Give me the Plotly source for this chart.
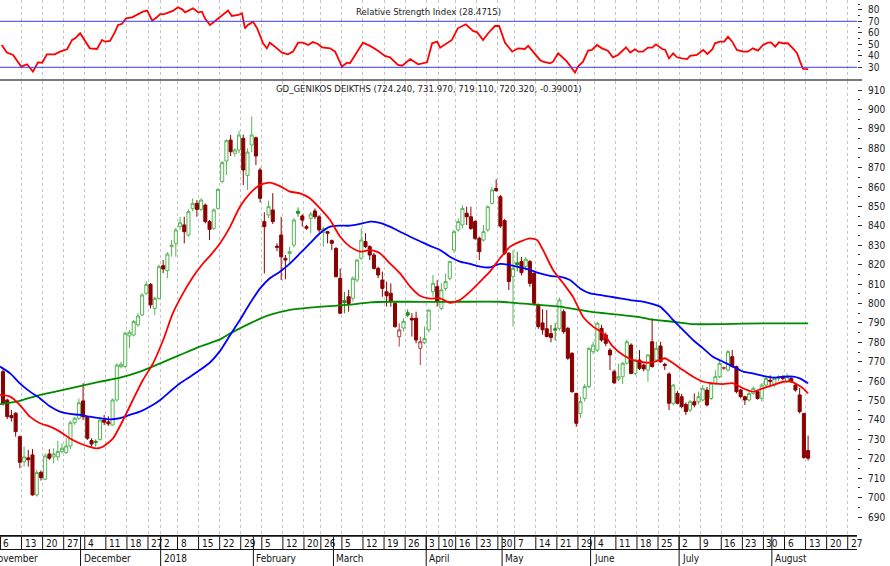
import pandas as pd
import plotly.graph_objects as go

# ---------------- data ----------------
opens = [764.9, 750.3, 742.3, 743.5, 731.4, 718.5, 720.5, 722.0, 701.4, 713.0,
         709.5, 722.5, 721.0, 721.0, 723.7, 723.2, 726.6, 738.6, 740.9, 749.8,
         741.7, 729.4, 729.0, 730.0, 740.0, 739.0, 737.4, 750.3, 767.5, 767.5,
         783.3, 783.8, 789.0, 794.1, 805.3, 809.9, 797.5, 802.7, 819.5, 817.0,
         829.3, 831.0, 839.6, 840.5, 835.3, 849.0, 851.6, 848.5, 850.7, 842.2,
         838.7, 849.0, 862.8, 873.4, 884.2, 877.4, 879.1, 885.1, 866.0, 881.7,
         885.4, 868.8, 842.2, 845.6, 848.2, 829.5, 835.3, 823.3, 825.8, 830.1,
         847.5, 845.1, 839.6, 843.9, 847.7, 844.7, 836.5, 837.0, 832.4, 828.4,
         813.0, 801.5, 803.5, 802.7, 812.1, 823.3, 831.9, 829.3, 825.0, 818.1,
         812.1, 806.0, 805.3, 800.1, 782.9, 787.4, 795.3, 792.4, 792.4, 776.9,
         779.8, 786.4, 806.1, 808.7, 797.5, 807.8, 813.0, 827.6, 837.9, 840.5,
         846.5, 844.7, 842.2, 833.6, 832.7, 837.9, 851.6, 859.3, 855.0, 842.7,
         825.9, 813.8, 821.0, 821.6, 819.0, 821.6, 815.6, 799.2, 790.0, 787.0,
         784.5, 787.0, 787.2, 795.8, 787.2, 774.3, 753.7, 743.4, 751.1, 757.2,
         775.2, 776.0, 787.2, 783.8, 776.0, 764.9, 761.0, 762.3, 769.2, 778.6,
         764.0, 770.9, 768.3, 765.7, 780.3, 770.9, 778.1, 768.7, 763.7, 748.6,
         753.7, 752.0, 748.0, 745.1, 749.4, 749.4, 750.3, 755.4, 751.1, 758.9,
         762.3, 766.6, 765.7, 772.6, 767.5, 755.4, 752.0, 750.3, 753.7, 754.6,
         751.1, 758.0, 760.5, 758.0, 761.4, 762.0, 759.7, 761.4, 758.0, 752.9,
         743.4, 724.24]
highs = [766.0, 751.0, 745.2, 744.0, 732.0, 726.3, 724.6, 725.0, 714.3, 714.0,
         722.8, 725.0, 725.4, 729.4, 728.0, 730.6, 739.5, 741.5, 751.0, 758.9,
         742.0, 730.6, 730.0, 741.0, 742.6, 741.9, 751.1, 769.2, 770.0, 785.5,
         786.4, 791.5, 795.0, 805.3, 811.5, 810.5, 803.5, 820.0, 822.4, 826.5,
         832.7, 839.0, 844.7, 844.7, 848.5, 854.2, 853.3, 854.2, 851.5, 843.0,
         849.0, 859.5, 873.4, 884.5, 886.8, 880.0, 889.0, 887.0, 880.0, 896.3,
         886.0, 870.0, 847.0, 853.0, 856.8, 831.0, 844.7, 825.0, 829.3, 844.0,
         849.5, 846.0, 840.5, 847.3, 849.0, 845.5, 839.6, 837.5, 833.0, 829.0,
         818.0, 806.0, 807.0, 814.0, 823.0, 838.7, 836.2, 830.0, 826.0, 819.0,
         816.4, 811.3, 810.4, 801.0, 789.8, 792.4, 797.0, 795.0, 795.8, 782.9,
         788.1, 797.0, 814.7, 812.0, 810.4, 815.5, 822.0, 838.0, 843.9, 850.7,
         849.9, 849.9, 843.0, 834.5, 840.5, 850.5, 860.0, 864.0, 856.0, 843.5,
         826.5, 827.6, 826.7, 824.0, 824.0, 822.4, 816.0, 800.0, 797.0, 796.7,
         789.0, 790.0, 803.0, 797.0, 788.0, 775.0, 754.0, 752.0, 758.5, 777.5,
         780.3, 790.6, 789.0, 785.0, 777.0, 766.0, 769.0, 770.0, 781.5, 779.5,
         771.5, 776.0, 769.0, 774.0, 792.4, 780.3, 780.3, 769.5, 764.5, 758.5,
         755.0, 753.5, 749.0, 750.3, 753.7, 754.6, 758.0, 757.0, 759.5, 765.7,
         771.0, 767.5, 776.0, 776.0, 768.0, 756.0, 752.5, 755.0, 757.2, 755.5,
         759.0, 762.3, 763.0, 762.3, 763.0, 763.0, 764.0, 762.0, 759.0, 756.5,
         743.5, 731.97]
lows = [747.5, 740.5, 739.2, 731.4, 715.1, 716.0, 716.0, 701.0, 700.5, 708.8,
        709.0, 719.5, 717.7, 719.0, 722.8, 722.5, 725.0, 737.5, 740.0, 740.0,
        729.7, 726.3, 726.3, 729.4, 737.4, 737.0, 737.0, 749.5, 766.6, 766.6,
        777.0, 783.0, 788.0, 793.5, 804.4, 797.5, 794.0, 802.0, 815.6, 813.0,
        824.1, 824.1, 838.0, 831.0, 834.4, 847.5, 844.7, 847.5, 841.3, 832.7,
        838.0, 848.5, 861.9, 866.2, 876.0, 875.7, 877.4, 861.0, 858.5, 878.0,
        871.3, 852.0, 815.5, 844.0, 841.0, 827.0, 812.1, 812.5, 820.7, 829.0,
        844.7, 839.6, 838.0, 836.2, 843.5, 836.5, 829.3, 831.0, 827.6, 813.5,
        794.5, 795.0, 795.8, 801.0, 811.0, 822.5, 828.5, 822.4, 817.5, 813.0,
        803.5, 798.4, 798.4, 787.5, 777.8, 785.5, 793.0, 783.0, 779.5, 768.3,
        779.0, 785.0, 803.5, 798.4, 796.6, 806.5, 812.0, 826.0, 837.0, 838.7,
        840.5, 837.9, 832.7, 822.4, 831.9, 837.0, 851.0, 857.5, 839.0, 825.0,
        807.0, 788.1, 816.5, 814.5, 817.0, 808.7, 799.0, 787.0, 784.0, 782.5,
        780.0, 781.0, 786.0, 784.5, 771.0, 754.0, 736.5, 741.0, 749.4, 756.3,
        774.0, 775.0, 780.3, 778.0, 765.7, 758.5, 760.0, 758.5, 768.5, 763.5,
        763.0, 765.7, 765.0, 759.7, 767.0, 770.0, 769.5, 765.7, 745.1, 747.5,
        748.0, 746.0, 742.6, 744.0, 746.5, 748.0, 749.5, 747.0, 750.3, 758.0,
        761.5, 765.7, 765.0, 767.0, 753.7, 751.1, 747.7, 749.5, 753.0, 750.5,
        749.5, 757.0, 757.2, 757.0, 760.0, 760.5, 759.0, 759.0, 754.6, 743.4,
        720.0, 719.11]
closes = [748.6, 741.7, 741.2, 734.0, 718.2, 721.0, 719.5, 701.4, 712.9, 710.3,
          721.5, 720.3, 722.5, 723.7, 725.4, 726.6, 738.6, 740.9, 748.9, 741.7,
          730.6, 727.6, 728.5, 740.0, 738.8, 738.0, 750.3, 768.3, 768.7, 784.7,
          785.2, 790.7, 793.6, 804.4, 809.9, 799.3, 802.7, 819.0, 817.8, 825.5,
          830.1, 837.9, 841.6, 837.0, 847.3, 851.6, 848.5, 853.3, 842.2, 838.2,
          848.2, 858.8, 872.6, 883.9, 878.2, 879.1, 886.8, 868.8, 878.0, 886.8,
          876.0, 854.2, 839.6, 849.9, 842.2, 829.0, 824.1, 822.4, 826.7, 843.0,
          846.5, 843.0, 838.8, 846.1, 844.7, 837.9, 838.5, 836.2, 831.0, 813.8,
          795.0, 800.5, 800.0, 813.0, 822.4, 832.7, 829.3, 825.0, 818.1, 814.7,
          807.8, 804.0, 801.0, 788.1, 786.4, 790.8, 794.0, 791.5, 781.2, 780.3,
          782.0, 796.6, 810.4, 800.9, 807.0, 811.3, 821.6, 837.0, 842.2, 849.0,
          844.7, 838.7, 833.6, 826.7, 837.0, 849.9, 858.5, 858.2, 839.9, 825.9,
          811.3, 818.1, 820.0, 815.9, 822.8, 810.4, 800.1, 788.1, 786.5, 783.0,
          782.5, 786.3, 801.8, 785.5, 771.8, 754.6, 738.3, 749.4, 757.2, 776.9,
          778.6, 789.8, 781.2, 779.5, 773.5, 759.2, 762.3, 769.2, 780.3, 764.0,
          770.9, 766.6, 766.3, 773.5, 767.5, 776.9, 770.0, 768.0, 748.6, 758.0,
          748.6, 746.9, 744.3, 749.4, 747.7, 752.0, 756.3, 747.7, 758.9, 762.3,
          769.2, 767.0, 775.2, 767.5, 754.6, 752.0, 750.3, 753.7, 756.3, 751.1,
          758.0, 761.4, 760.0, 761.4, 762.3, 761.4, 762.3, 759.7, 755.4, 744.3,
          720.71, 720.32]

# moving averages (position = trading-day number, value = index level)
ma_red_pos = [-0.7, 1.7, 4.0, 6.4, 8.8, 11.2, 13.5, 15.9, 18.3, 20.6, 22.3, 23.7,
              26.1, 28.5, 30.8, 33.2, 35.6, 38.0, 40.3, 42.7, 45.1, 47.4, 49.1,
              51.5, 53.9, 56.2, 58.6, 61.0, 63.3, 65.7, 68.1, 70.5, 72.8, 75.2,
              77.6, 80.0, 82.3, 84.7, 87.1, 89.4, 91.8, 94.2, 96.6, 98.9, 101.3,
              103.7, 106.0, 108.4, 110.8, 113.2, 115.5, 117.9, 120.3, 122.7, 125.0,
              126.7, 128.1, 130.5, 132.9, 135.2, 137.6, 140.0, 142.4, 144.7, 147.1,
              149.5, 151.1, 153.5, 155.9, 157.0, 159.0, 161.3, 163.7, 166.1, 168.4,
              170.8, 173.2, 175.6, 177.9, 180.3, 182.7, 185.1, 187.0, 188.6, 189.8,
              191.0]
ma_red_val = [752.9, 752.0, 747.7, 741.7, 738.3, 736.6, 734.0, 730.5, 727.9, 726.2,
              725.4, 726.2, 730.5, 740.0, 750.3, 760.6, 769.2, 781.2, 795.0, 805.2,
              813.8, 820.5, 824.5, 831.0, 839.6, 849.9, 856.8, 861.1, 862.3, 860.5,
              857.6, 856.8, 854.2, 849.0, 843.0, 834.4, 829.3, 826.7, 827.6, 825.9,
              820.7, 815.5, 808.7, 804.0, 802.5, 802.7, 800.4, 801.8, 806.1, 811.3,
              816.4, 823.3, 829.3, 831.9, 833.6, 832.7, 827.6, 817.3, 810.4, 803.5,
              793.2, 788.1, 784.6, 777.8, 773.5, 770.9, 770.0, 769.5, 770.9, 771.8,
              769.2, 765.7, 762.3, 759.7, 758.9, 758.5, 758.9, 756.3, 754.6, 756.3,
              758.0, 759.7, 759.7, 758.0, 756.3, 753.7]
ma_blue_pos = [-0.7, 1.7, 4.0, 6.4, 8.8, 11.2, 13.5, 15.9, 18.3, 20.6, 23.0, 25.4,
               27.8, 30.1, 32.5, 34.9, 37.3, 39.6, 42.0, 44.4, 46.7, 49.1, 51.5,
               53.9, 56.2, 58.6, 61.0, 63.3, 65.7, 68.1, 70.5, 72.8, 75.2, 77.6,
               80.0, 82.3, 84.7, 87.1, 89.4, 91.8, 94.2, 96.6, 98.9, 101.3, 103.7,
               106.0, 108.4, 110.8, 113.2, 115.5, 117.9, 120.3, 122.7, 125.0, 127.4,
               129.8, 132.1, 134.5, 136.9, 139.3, 141.6, 144.0, 146.4, 148.8, 151.1,
               153.5, 155.9, 157.5, 159.0, 161.3, 163.7, 166.1, 168.4, 170.8, 173.2,
               175.6, 177.9, 180.3, 182.7, 185.1, 187.5, 189.0, 191.0]
ma_blue_val = [767.5, 764.0, 758.9, 754.6, 751.1, 746.9, 744.3, 743.1, 742.6, 741.7,
               740.9, 740.3, 740.9, 742.6, 744.3, 746.9, 750.3, 754.6, 758.9, 762.3,
               765.7, 769.6, 775.6, 783.8, 791.5, 800.1, 807.8, 813.0, 816.4, 820.7,
               825.9, 831.0, 836.2, 839.6, 840.1, 840.1, 841.0, 842.2, 841.6, 839.6,
               837.0, 834.4, 832.1, 829.7, 827.6, 824.1, 821.6, 820.4, 819.0, 818.6,
               820.4, 819.8, 818.6, 817.3, 815.5, 814.2, 813.8, 812.1, 807.8, 805.2,
               804.4, 803.5, 802.7, 801.8, 801.2, 800.1, 798.4, 795.0, 791.5, 786.4,
               781.2, 776.9, 772.6, 770.0, 767.5, 764.9, 764.0, 762.7, 761.8, 762.3,
               762.3, 761.4, 758.9]
ma_green_pos = [-0.7, 1.7, 4.0, 8.8, 13.5, 18.3, 23.0, 27.8, 32.5, 37.3, 42.0, 46.7,
                51.5, 53.9, 58.6, 63.3, 68.1, 72.8, 77.6, 82.3, 87.1, 91.8, 96.6,
                101.3, 108.4, 117.9, 125.0, 132.1, 139.3, 146.4, 151.1, 153.5, 159.0,
                163.7, 170.8, 180.3, 191.0]
ma_green_val = [748.2, 748.9, 749.9, 752.9, 755.1, 757.5, 759.7, 761.8, 764.9, 769.2,
                773.5, 777.8, 781.5, 784.6, 789.8, 794.1, 796.7, 797.9, 798.7, 799.4,
                800.6, 800.9, 800.9, 800.8, 800.9, 800.9, 799.7, 798.4, 795.8, 794.1,
                793.0, 791.8, 790.6, 789.4, 789.4, 789.8, 789.8]

rsi_pos = [-0.3, 0.9, 2.4, 4.3, 5.7, 7.1, 8.3, 9.3, 10.4, 12.3, 13.5, 15.2, 16.4, 17.1,
           18.3, 19.5, 20.6, 22.3, 23.5, 24.2, 25.4, 26.6, 27.3, 28.2, 29.2, 30.6, 31.8,
           33.2, 34.2, 35.4, 36.5, 37.2, 38.4, 39.6, 40.3, 41.5, 42.5, 43.2, 44.4, 45.1,
           46.3, 47.2, 47.9, 49.1, 49.8, 51.5, 53.4, 54.3, 55.8, 56.7, 57.4, 58.1, 59.3,
           60.3, 61.7, 62.6, 63.3, 64.5, 66.2, 67.6, 68.8, 70.0, 71.2, 72.4, 73.5, 74.7,
           75.7, 77.6, 78.8, 80.4, 81.6, 82.3, 84.0, 85.4, 87.1, 88.7, 90.6, 91.8, 93.7,
           94.7, 96.6, 98.5, 100.6, 101.8, 103.0, 103.7, 105.3, 106.5, 107.9, 109.8,
           111.5, 112.5, 113.9, 115.1, 116.7, 117.7, 119.1, 120.8, 122.2, 123.8, 124.6,
           125.7, 127.4, 128.1, 129.8, 130.5, 131.7, 133.8, 135.7, 136.4, 137.6, 138.8,
           139.7, 140.9, 142.1, 143.5, 144.7, 145.9, 147.8, 148.8, 149.9, 150.7, 151.8,
           153.0, 154.0, 154.9, 156.4, 157.1, 158.0, 159.0, 159.9, 161.1, 162.3, 163.0,
           164.6, 166.1, 167.1, 168.3, 168.9, 170.1, 171.1, 172.0, 173.0, 174.1, 175.6,
           176.7, 177.9, 179.1, 180.3, 181.5, 182.2, 183.2, 184.1, 185.1, 186.2, 187.4,
           188.4, 189.1, 189.8, 191.0]
rsi_val = [49.4, 42.8, 40.7, 30.6, 32.6, 26.2, 34.3, 34.0, 41.3, 41.3, 43.6, 45.7, 53.8,
           55.2, 59.6, 52.3, 46.5, 45.9, 53.8, 52.3, 52.9, 61.0, 66.8, 67.7, 72.6, 73.5,
           75.5, 78.4, 79.3, 70.6, 73.5, 76.1, 76.4, 77.8, 79.0, 82.2, 80.4, 77.8, 79.9,
           81.3, 77.8, 78.4, 72.6, 66.8, 68.8, 74.0, 79.3, 74.6, 75.5, 77.0, 63.9, 66.8,
           69.7, 63.9, 50.9, 46.5, 51.4, 48.0, 42.8, 41.3, 43.6, 51.4, 51.4, 49.4, 52.0,
           50.3, 47.4, 46.5, 43.6, 30.6, 34.0, 33.5, 43.6, 51.4, 48.6, 45.1, 39.9, 38.7,
           32.0, 31.4, 37.2, 32.6, 34.3, 50.9, 52.3, 47.0, 50.9, 53.8, 63.9, 67.4, 61.6,
           60.4, 53.8, 59.6, 65.9, 65.9, 51.4, 43.6, 46.5, 45.9, 48.6, 43.6, 36.4, 34.9,
           33.5, 34.9, 42.2, 34.9, 25.4, 30.6, 34.9, 44.5, 45.1, 49.4, 46.5, 44.5, 38.7,
           40.7, 47.4, 42.8, 45.7, 43.6, 43.6, 47.1, 47.1, 50.0, 45.9, 45.1, 37.8, 42.2,
           38.7, 37.8, 37.2, 39.9, 40.7, 45.1, 41.6, 45.7, 50.9, 52.3, 52.3, 56.7, 52.3,
           45.1, 43.6, 43.6, 46.5, 44.5, 49.4, 51.4, 51.7, 48.0, 51.7, 50.9, 50.9, 46.5,
           42.2, 34.9, 28.6, 28.47]

price_ticks = list(range(690, 911, 10))
price_minor = list(range(695, 911, 10))
rsi_ticks = [30, 40, 50, 60, 70, 80]
rsi_minor = [35, 45, 55, 65, 75, 85]
rsi_bands = [70, 30]

title_main = "GD_GENIKOS DEIKTHS (724.240, 731.970, 719.110, 720.320, -0.39001)"
title_rsi = "Relative Strength Index (28.4715)"

holidays = ["2017-12-25", "2017-12-26", "2018-01-01", "2018-02-19", "2018-04-02",
            "2018-04-06", "2018-04-09", "2018-05-01", "2018-05-28"]
month_names = {1: "January", 2: "February", 3: "March", 4: "April", 5: "May",
               6: "June", 7: "July", 8: "August", 9: "September", 10: "October",
               11: "November", 12: "December"}

# ---------------- trading-day calendar ----------------
hol = pd.to_datetime(holidays)
trade = pd.bdate_range("2017-11-06", "2018-08-13")
trade = trade[~trade.isin(hol)]
assert len(trade) == len(closes)
pre = pd.bdate_range("2017-10-30", "2017-11-03")
post = pd.bdate_range("2018-08-14", "2018-09-14")
days = list(pre) + list(trade) + list(post)
positions = list(range(-len(pre), len(trade) + len(post)))
x_data = list(range(len(trade)))

XMIN, XMAX = -0.712, 202.6
EDGE = 0.6  # separator sits just left of the day's candle

week_first, month_first = {}, {}
for d, p in zip(days, positions):
    wk = tuple(d.isocalendar()[:2])
    week_first.setdefault(wk, (d, p))
    month_first.setdefault((d.year, d.month), (d, p))

week_seps = [(p - EDGE, d) for d, p in week_first.values() if XMIN <= p - EDGE <= XMAX]
month_all = sorted((p - EDGE, d) for d, p in month_first.values())
month_seps = []
for i, (s, d) in enumerate(month_all):
    nxt = month_all[i + 1][0] if i + 1 < len(month_all) else None
    if s > XMAX:
        continue
    if s < XMIN and (nxt is None or nxt < XMIN):
        continue  # month entirely left of the view
    month_seps.append((s, d))

# ---------------- figure ----------------
FONT = "Liberation Sans Narrow, Arial Narrow, DejaVu Sans Condensed, Liberation Sans, Arial, sans-serif"
GREEN = "#56b556"
GREEN_DARK = "#1f8f1f"
RED = "#8b0000"
RED_LIGHT = "#b33a3a"

H = 566
fig = go.Figure()

prev = [None] + closes[:-1]
up = [p is not None and c >= p for c, p in zip(closes, prev)]


def pick(arr, flag):
    return [a for a, u in zip(arr, up) if u == flag]


fig.add_trace(go.Candlestick(
    x=pick(x_data, True), open=pick(opens, True), high=pick(highs, True),
    low=pick(lows, True), close=pick(closes, True),
    increasing=dict(line=dict(color=GREEN, width=1), fillcolor="white"),
    decreasing=dict(line=dict(color=GREEN_DARK, width=1), fillcolor=GREEN_DARK),
    whiskerwidth=0, hoverinfo="skip", showlegend=False, xaxis="x", yaxis="y"))
fig.add_trace(go.Candlestick(
    x=pick(x_data, False), open=pick(opens, False), high=pick(highs, False),
    low=pick(lows, False), close=pick(closes, False),
    increasing=dict(line=dict(color=RED_LIGHT, width=1), fillcolor="white"),
    decreasing=dict(line=dict(color=RED, width=1), fillcolor=RED),
    whiskerwidth=0, hoverinfo="skip", showlegend=False, xaxis="x", yaxis="y"))

for pos_, val_, col in [(ma_green_pos, ma_green_val, "#008a00"),
                        (ma_blue_pos, ma_blue_val, "#0000ff"),
                        (ma_red_pos, ma_red_val, "#ff0000")]:
    fig.add_trace(go.Scatter(x=pos_, y=val_, mode="lines",
                             line=dict(color=col, width=1.8, shape="spline", smoothing=0.6),
                             hoverinfo="skip", showlegend=False, xaxis="x", yaxis="y"))

fig.add_trace(go.Scatter(x=rsi_pos, y=rsi_val, mode="lines",
                         line=dict(color="#ff0000", width=1.8),
                         hoverinfo="skip", showlegend=False, xaxis="x2", yaxis="y2"))
fig.add_trace(go.Scatter(x=[XMIN], y=[0], mode="markers", marker=dict(opacity=0),
                         hoverinfo="skip", showlegend=False, xaxis="x3", yaxis="y3"))

grid_vals = [s for s, _ in week_seps]
xcommon = dict(range=[XMIN, XMAX], showline=False, zeroline=False, ticks="",
               showticklabels=False, fixedrange=True)
tickfont = dict(family=FONT, size=10, color="#222")

fig.update_layout(
    width=890, height=H, margin=dict(l=0, r=33, t=0, b=0),
    paper_bgcolor="white", plot_bgcolor="white",
    boxgap=0.15, boxgroupgap=0.15,
    xaxis=dict(**xcommon, anchor="y", tickvals=grid_vals, showgrid=True,
               gridcolor="#c4c4c4", griddash="dot", gridwidth=1,
               rangeslider=dict(visible=False)),
    xaxis2=dict(**xcommon, anchor="y2", matches="x", tickvals=grid_vals, showgrid=True,
                gridcolor="#c4c4c4", griddash="dot", gridwidth=1),
    xaxis3=dict(**xcommon, anchor="y3", matches="x", showgrid=False),
    yaxis=dict(domain=[31 / H, 485 / H], range=[680.74, 914.64], side="right",
               anchor="x", tickvals=price_ticks, ticks="outside", ticklen=4,
               tickcolor="#333", tickwidth=1, showgrid=False, zeroline=False,
               tickfont=tickfont, ticklabelstandoff=4, fixedrange=True,
               minor=dict(tickvals=price_minor, ticks="outside", ticklen=2,
                          tickcolor="#333", showgrid=False)),
    yaxis2=dict(domain=[487 / H, 1], range=[19.83, 88.52], side="right", anchor="x2",
                tickvals=rsi_ticks, ticks="outside", ticklen=4, tickcolor="#333",
                tickwidth=1, showgrid=False, zeroline=False, tickfont=tickfont,
                ticklabelstandoff=4, fixedrange=True,
                minor=dict(tickvals=rsi_minor, ticks="outside", ticklen=2,
                           tickcolor="#333", showgrid=False)),
    yaxis3=dict(domain=[0, 31 / H], range=[0, 31], anchor="x3", visible=False,
                fixedrange=True),
)

shapes = []
for lvl in rsi_bands:
    shapes.append(dict(type="line", xref="x2 domain", x0=0, x1=1, yref="y2", y0=lvl, y1=lvl,
                       line=dict(color="#3a3aff", width=1)))
# panel separator
shapes.append(dict(type="line", xref="paper", x0=0, x1=862 / 857, yref="paper",
                   y0=1 - 80 / H, y1=1 - 80 / H, line=dict(color="#7a7a7a", width=2)))
# date strip
shapes.append(dict(type="line", xref="x3 domain", x0=0, x1=1, yref="y3", y0=30.3, y1=30.3,
                   line=dict(color="#111", width=2)))
shapes.append(dict(type="line", xref="x3 domain", x0=0, x1=1, yref="y3", y0=16.5, y1=16.5,
                   line=dict(color="#111", width=1)))
for s, _ in week_seps:
    shapes.append(dict(type="line", xref="x3", x0=s, x1=s, yref="y3", y0=16.5, y1=29.5,
                       line=dict(color="#111", width=1)))
for s, _ in month_seps:
    if s >= XMIN:
        shapes.append(dict(type="line", xref="x3", x0=s, x1=s, yref="y3", y0=0, y1=29.5,
                           line=dict(color="#111", width=1)))

annotations = [
    dict(text=title_rsi, xref="paper", yref="paper", x=0.5, y=1 - 11 / H,
         showarrow=False, xanchor="center", yanchor="middle",
         font=dict(family=FONT, size=9.5, color="#222")),
    dict(text=title_main, xref="paper", yref="paper", x=0.5, y=1 - 88 / H,
         showarrow=False, xanchor="center", yanchor="middle",
         font=dict(family=FONT, size=9.5, color="#222")),
]
labfont = dict(family=FONT, size=10, color="#111")
for s, d in week_seps:
    annotations.append(dict(text=str(d.day), xref="x3", yref="y3", x=s, y=23,
                            xanchor="left", yanchor="middle", xshift=1, showarrow=False,
                            font=labfont))
for s, d in month_seps:
    name = str(d.year) if d.month == 1 else month_names[d.month]
    if s >= XMIN:
        annotations.append(dict(text=name, xref="x3", yref="y3", x=s, y=8,
                                xanchor="left", yanchor="middle", xshift=1,
                                showarrow=False, font=labfont))
    else:
        frac = (s - XMIN) / (XMAX - XMIN)
        annotations.append(dict(text=name, xref="paper", yref="y3", x=frac, y=8,
                                xanchor="left", yanchor="middle", xshift=1,
                                showarrow=False, font=labfont))

fig.update_layout(shapes=shapes, annotations=annotations)
fig.write_html("out.html",
               config={"displayModeBar": False},
               post_script="document.body.style.margin='0px';"
                           "document.body.style.overflow='hidden';")
